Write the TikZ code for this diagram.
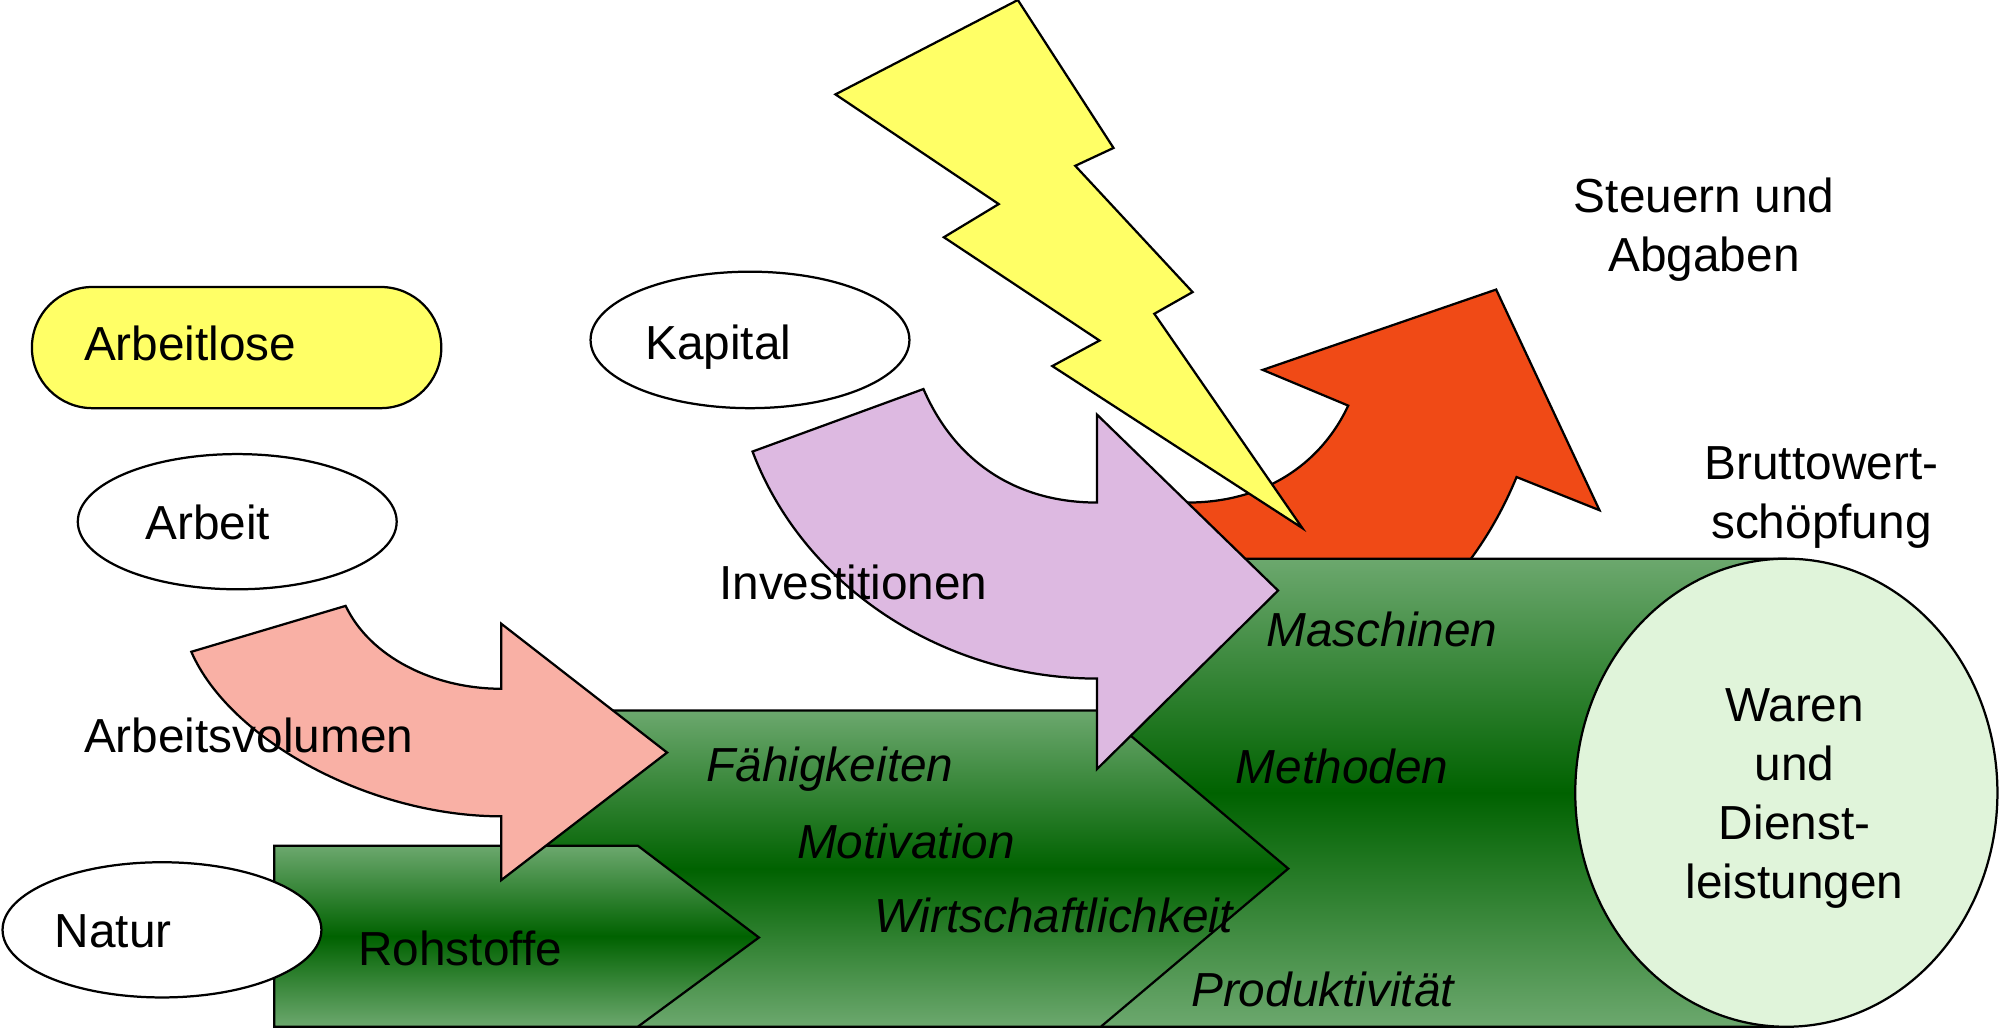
\documentclass[tikz,border=0pt]{standalone}
\usepackage{fontspec}
\setmainfont{Liberation Sans}
\newcommand\dfont{\fontsize{10.65}{13.1}\selectfont}
\definecolor{gl}{RGB}{108,168,110}
\definecolor{gd}{RGB}{0,98,0}
\definecolor{yel}{RGB}{255,255,102}
\definecolor{pinkar}{RGB}{249,176,165}
\definecolor{purpar}{RGB}{221,185,225}
\definecolor{redar}{RGB}{240,74,22}
\definecolor{paleg}{RGB}{224,244,218}
\begin{document}
\begin{tikzpicture}[x=0.01cm,y=-0.01cm,line width=0.5pt,
  outl/.style={draw=black,line join=miter},
  greenshade/.style={outl,top color=gl,bottom color=gl,middle color=gd},
  txt/.style={font=\dfont,inner sep=0pt,text=black},
  itxt/.style={font=\dfont\itshape,inner sep=0pt,text=black}]
\fill[white] (0,0) rectangle (1568,809);
\useasboundingbox (0,0) rectangle (1568,809);
% red curved arrow (Steuern und Abgaben)
\path[outl,fill=redar] (931,394) .. controls (990,394) and (1035,365) .. (1057,318)
  -- (990,290) -- (1173,227) -- (1254,400) -- (1189,374)
  .. controls (1170,420) and (1145,452) .. (1118,478) -- (931,478) -- cycle;
% cylinder body
\path[greenshade] (868,438) -- (1400,438) -- (1400,805) -- (863,805) -- (868,700) -- cycle;
% middle chevron
\path[greenshade] (430,557) -- (863,557) -- (1010,681) -- (863,805) -- (430,805) -- cycle;
% Rohstoffe chevron
\path[greenshade] (215,663) -- (500,663) -- (595,735) -- (500,805) -- (215,805) -- cycle;
% Waren und Dienstleistungen
\draw[outl,fill=paleg] (1400.5,621.5) ellipse [x radius=165.5,y radius=183.5];
% pink arrow
\path[outl,fill=pinkar] (150,511) -- (271,475) .. controls (290,515) and (340,540) .. (393,540)
  -- (393,489) -- (523,590) -- (393,690) -- (393,640)
  .. controls (290,640) and (180,580) .. (150,511) -- cycle;
% purple arrow
\path[outl,fill=purpar] (590,354) -- (724,305) .. controls (750,365) and (800,394) .. (860,394)
  -- (860,325) -- (1002,463) -- (860,603) -- (860,532)
  .. controls (740,532) and (630,460) .. (590,354) -- cycle;
% lightning
\path[outl,fill=yel] (798,0) -- (873,116) -- (843,130) -- (935,229) -- (905,246) -- (1021,414)
  -- (825,287) -- (862,267) -- (740,186) -- (783,160) -- (655,74) -- cycle;
% ellipses
\draw[outl,fill=yel,rounded corners=0.475cm] (25,225) rectangle (346,320);
\draw[outl,fill=white] (186,409) ellipse [x radius=125,y radius=53];
\draw[outl,fill=white] (588,266.5) ellipse [x radius=125,y radius=53.5];
\draw[outl,fill=white] (127,729) ellipse [x radius=125,y radius=53];
% texts
\node[txt,anchor=base west] (arbeitlose) at (65,283) {Arbeitlose};
\node[txt,anchor=base west] (arbeit) at (113,423) {Arbeit};
\node[txt,anchor=base west] (kapital) at (505,282) {Kapital};
\node[txt,anchor=base west] (natur) at (42,743) {Natur};
\node[txt,anchor=base west] (arbvol) at (65,590) {Arbeitsvolumen};
\node[txt,anchor=base west] (invest) at (563,470) {Investitionen};
\node[txt,align=center] (steuern) at (1336,180) {Steuern und\\Abgaben};
\node[txt,align=center] (brutto) at (1428,390) {Bruttowert-\\schöpfung};
\node[itxt,anchor=base west] (masch) at (992,507) {Maschinen};
\node[itxt,anchor=base west] (meth) at (968,614) {Methoden};
\node[itxt,anchor=base west] (prod) at (933,789) {Produktivität};
\node[itxt,anchor=base west] (faeh) at (553,613) {Fähigkeiten};
\node[itxt,anchor=base west] (motiv) at (624,673) {Motivation};
\node[itxt,anchor=base west] (wirt) at (685,731) {Wirtschaftlichkeit};
\node[txt,anchor=base west] (roh) at (280,757) {Rohstoffe};
\node[txt,align=center] (waren) at (1407,626) {Waren\\und\\Dienst-\\leistungen};
\end{tikzpicture}
\end{document}
